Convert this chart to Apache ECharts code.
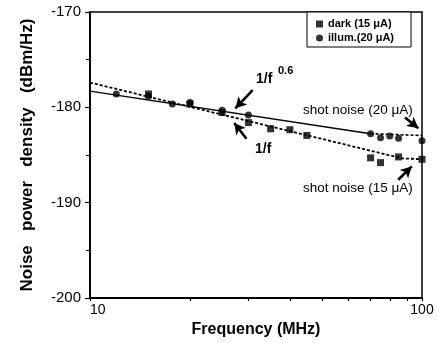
<!DOCTYPE html>
<html lang="en">
<head>
    <meta charset="UTF-8">
    <title>Noise power density</title>
    <script src="https://cdn.jsdelivr.net/npm/echarts@6/dist/echarts.min.js"></script>
</head>
<body style="margin:0">
<div id="main" style="width: 437px;height: 343px"></div>
<script>
    // measured points (MHz, dBm/Hz)
    var darkFreq = [15, 20, 25, 30, 35, 40, 45, 70, 75, 85, 100];
    var darkNoise = [-178.6, -179.65, -180.55, -181.6, -182.25, -182.35, -182.95, -185.3, -185.8, -185.2, -185.45];
    var illumFreq = [12, 15, 17.7, 20, 25, 30, 70, 75, 80, 85, 100];
    var illumNoise = [-178.6, -178.85, -179.65, -179.5, -180.3, -180.8, -182.77, -183.2, -183.02, -183.23, -183.5];

    // fitted curves
    var darkFitFreq = [10, 87, 100];
    var darkFitNoise = [-177.4, -185.35, -185.45];
    var illumFitFreq = [10, 70];
    var illumFitNoise = [-178.3, -182.77];
    var illumShotFreq = [70, 100];
    var illumShotNoise = [-182.77, -182.95];

    var xTickValues = [10, 20, 30, 40, 50, 60, 70, 80, 90, 100];
    var xLabelValues = [10, 100];

    // arrows: [tail, head] in data coordinates
    var arrows = [
        [[30.9, -178.2], [27.4, -180.1]],
        [[29.6, -183.3], [27.2, -181.65]],
        [[88.9, -181.07], [97.5, -182.2]],
        [[84.8, -187.6], [93.1, -186.2]]
    ];

    function pairs(xs, ys) {
        var out = [];
        for (var i = 0; i < xs.length; i++) out.push([xs[i], ys[i]]);
        return out;
    }

    var font = '"Liberation Sans", Arial, sans-serif';
    var myChart = echarts.init(document.getElementById('main'));

    var option = {
        animation: false,
        grid: {
            left: 90, right: 15, top: 12, bottom: 45,
            show: true, borderColor: '#000', borderWidth: 1.5
        },
        legend: {
            left: 307, top: 12,
            orient: 'vertical',
            padding: [6, 17, 3, 9],
            itemGap: 2,
            itemWidth: 7, itemHeight: 7,
            borderColor: '#000', borderWidth: 1,
            backgroundColor: '#fff',
            textStyle: {fontFamily: font, fontWeight: 'bold', fontSize: 11, color: '#000', lineHeight: 12},
            data: [
                {name: 'dark (15 μA)', icon: 'rect'},
                {name: 'illum.(20 μA)', icon: 'circle'}
            ]
        },
        xAxis: {
            type: 'log',
            logBase: 10,
            min: 10,
            max: 100,
            name: 'Frequency (MHz)',
            nameLocation: 'middle',
            nameGap: 21,
            nameTextStyle: {fontFamily: font, fontWeight: 'bold', fontSize: 16, color: '#000'},
            axisLine: {lineStyle: {color: '#000', width: 2}},
            axisTick: {length: 3, lineStyle: {color: '#000', width: 1.2}, customValues: xTickValues},
            axisLabel: {
                customValues: xLabelValues,
                fontFamily: font, fontSize: 14, color: '#000', margin: 5,
                alignMinLabel: 'left'
            },
            splitLine: {show: false}
        },
        yAxis: {
            type: 'value',
            min: -200,
            max: -170,
            interval: 10,
            name: 'Noise   power   density   (dBm/Hz)',
            nameLocation: 'middle',
            nameGap: 54,
            nameTextStyle: {fontFamily: font, fontWeight: 'bold', fontSize: 17, color: '#000'},
            axisLine: {lineStyle: {color: '#000', width: 2}},
            axisTick: {length: 5, lineStyle: {color: '#000', width: 1.2}},
            minorTick: {show: true, splitNumber: 2, length: 4, lineStyle: {color: '#000', width: 1.2}},
            axisLabel: {fontFamily: font, fontSize: 15, color: '#000', margin: 9},
            splitLine: {show: false}
        },
        series: [
            {
                name: 'dark (15 μA)',
                type: 'scatter',
                symbol: 'rect',
                symbolSize: 7,
                itemStyle: {color: '#000'},
                data: pairs(darkFreq, darkNoise),
                z: 5
            },
            {
                name: 'illum.(20 μA)',
                type: 'scatter',
                symbol: 'circle',
                symbolSize: 7,
                itemStyle: {color: '#000'},
                data: pairs(illumFreq, illumNoise),
                z: 5
            },
            {
                name: 'dark fit',
                type: 'line',
                symbol: 'none',
                lineStyle: {color: '#000', width: 1.8, type: [3, 2]},
                data: pairs(darkFitFreq, darkFitNoise),
                markLine: {
                    silent: true,
                    symbol: ['none', 'arrow'],
                    symbolSize: [9, 11],
                    label: {show: false},
                    lineStyle: {color: '#000', width: 2.6, type: 'solid'},
                    data: arrows.map(function (a) {
                        return [{coord: a[0]}, {coord: a[1]}];
                    })
                }
            },
            {
                name: 'illum fit',
                type: 'line',
                symbol: 'none',
                lineStyle: {color: '#000', width: 1.4},
                data: pairs(illumFitFreq, illumFitNoise)
            },
            {
                name: 'illum shot',
                type: 'line',
                symbol: 'none',
                lineStyle: {color: '#000', width: 1.6, type: [3, 2]},
                data: pairs(illumShotFreq, illumShotNoise)
            }
        ],
        graphic: [
            {type: 'text', left: 256, top: 72, style: {text: '1/f', font: 'bold 14px ' + font, fill: '#000'}},
            {type: 'text', left: 278, top: 65, style: {text: '0.6', font: 'bold 11px ' + font, fill: '#000'}},
            {type: 'text', left: 255, top: 142, style: {text: '1/f', font: 'bold 14px ' + font, fill: '#000'}},
            {type: 'text', left: 303, top: 103, style: {text: 'shot noise (20 μA)', font: '13.5px ' + font, fill: '#000'}},
            {type: 'text', left: 303, top: 181, style: {text: 'shot noise (15 μA)', font: '13.5px ' + font, fill: '#000'}}
        ]
    };

    myChart.setOption(option);
</script>
</body>
</html>
